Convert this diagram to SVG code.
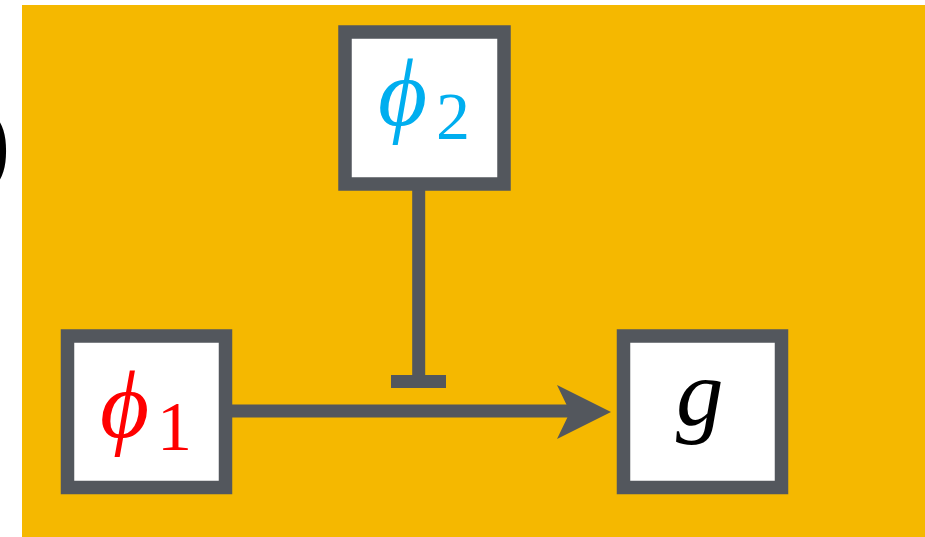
<svg xmlns="http://www.w3.org/2000/svg" width="925" height="537" viewBox="0 0 925 537">
<style>
.box{fill:#ffffff;stroke:#53575d;stroke-width:13.5}
.conn{stroke:#53575d;stroke-width:13;fill:none}
</style>
<rect x="0" y="0" width="925" height="537" fill="#ffffff"/>
<text transform="translate(-24,176) scale(2)" font-family="Liberation Serif" font-size="52" fill="#000">)</text>
<rect x="22" y="5" width="903" height="532" fill="#f5b800"/>
<g id="connectors">
<line class="conn" x1="418.7" y1="190" x2="418.7" y2="382"/>
<line class="conn" x1="391" y1="381.5" x2="446" y2="381.5"/>
<line class="conn" x1="232" y1="411" x2="575" y2="411"/>
<polygon points="557,385 611,412 557,439 570,412" fill="#53575d"/>
</g>
<g id="phi2" font-family="Liberation Serif" fill="#00aeef">
<rect class="box" x="345" y="32" width="159" height="152"/>
<text transform="translate(378,125) scale(2)" font-size="47.5" font-style="italic">ϕ</text>
<text transform="translate(436,139) scale(2)" font-size="34">2</text>
</g>
<g id="phi1" font-family="Liberation Serif" fill="#ff0000">
<rect class="box" x="67.5" y="336" width="158" height="151.5"/>
<text transform="translate(100,437) scale(2)" font-size="47.5" font-style="italic">ϕ</text>
<text transform="translate(157,450) scale(2)" font-size="35">1</text>
</g>
<g id="g" font-family="Liberation Serif" fill="#000000">
<rect class="box" x="623.5" y="336" width="158" height="151.5"/>
<text transform="translate(676,425) scale(2)" font-size="47.5" font-style="italic">g</text>
</g>
</svg>
